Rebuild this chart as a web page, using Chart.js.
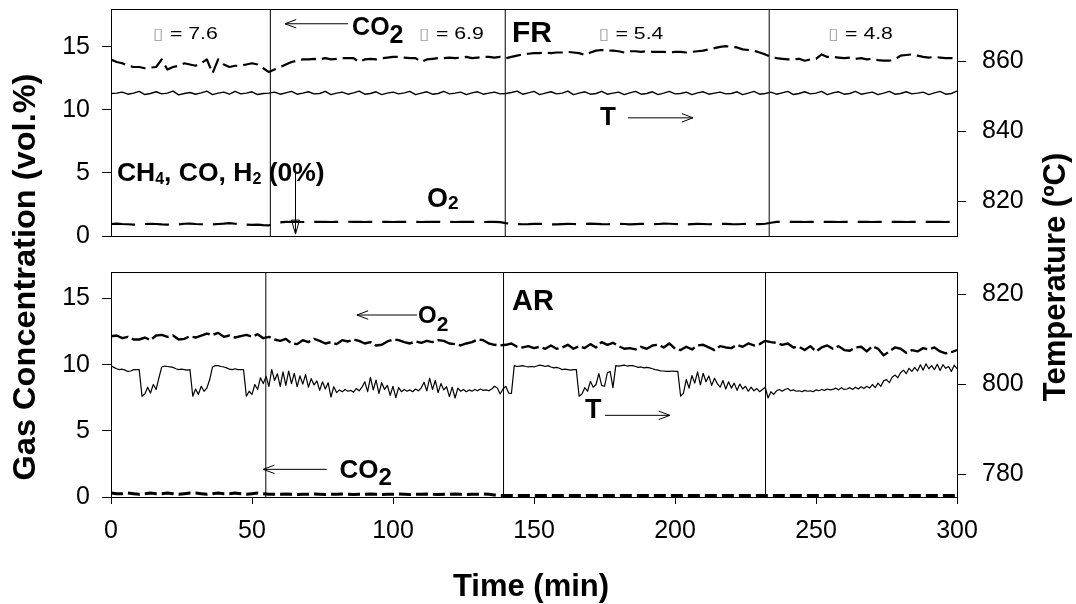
<!DOCTYPE html>
<html>
<head>
<meta charset="utf-8">
<script src="https://cdn.jsdelivr.net/npm/chart.js@4.4.0/dist/chart.umd.min.js"></script>
<style>
  body { margin: 0; background: #fff; }
  #wrap { position: relative; width: 1076px; height: 604px; }
  #wrap canvas { position: absolute; left: 0; top: 0; }
</style>
</head>
<body>
<div id="wrap">
  <canvas id="arChart" width="1076" height="604"></canvas>
  <canvas id="frChart" width="1076" height="256"></canvas>
</div>
<script>
const FONT = "'Liberation Sans', Arial, Helvetica, sans-serif";

// sampling interval (min) of each series
const FR_STEP = 2;
const AR_STEP = 2;
const AR_TEMP_STEP = 1;

// ---- FR panel (top) ----
const frCo2 = [
  14.0, 13.8, 13.7, 13.5, 13.4, 13.4, 13.3, 13.35, 13.4, 14.0,
  13.2, 13.4, 13.5, 13.7, 13.6, 13.5, 13.7, 14.0, 12.9, 14.0,
  13.6, 13.4, 13.5, 13.5, 13.6, 13.7, 13.6, 13.3, 13.0, 13.2,
  13.4, 13.6, 13.8, 13.9, 14.0, 14.0, 14.05, 14.0, 14.1, 14.0,
  14.05, 14.1, 14.1, 14.1, 13.8, 14.0, 14.05, 14.0, 14.1, 14.15,
  14.2, 14.2, 14.15, 14.1, 14.1, 13.8, 14.0, 14.05, 14.1, 14.1,
  14.15, 14.1, 14.15, 14.2, 14.1, 14.15, 14.2, 14.2, 14.15, 14.2,
  14.1, 14.2, 14.3, 14.4, 14.45, 14.5, 14.5, 14.55, 14.5, 14.55,
  14.55, 14.6, 14.55, 14.5, 14.35, 14.55, 14.7, 14.75, 14.7, 14.7,
  14.65, 14.55, 14.65, 14.65, 14.6, 14.65, 14.6, 14.6, 14.6, 14.55,
  14.6, 14.6, 14.55, 14.6, 14.65, 14.7, 14.8, 14.9, 15.0, 15.05,
  15.0, 14.95, 14.8, 14.75, 14.7, 14.55, 14.4, 14.2, 14.1, 14.05,
  14.0, 14.0, 14.05, 13.9, 14.0, 14.05, 14.4, 14.2, 14.2, 14.15,
  14.1, 14.15, 14.05, 14.1, 14.0, 14.05, 13.95, 13.9, 13.9, 14.0,
  14.3, 14.35, 14.4, 14.3, 14.2, 14.15, 14.2, 14.15, 14.1, 14.1,
  14.1
];
const frO2 = [
  0.95, 0.98, 0.95, 0.93, 0.90, 0.92, 0.95, 0.97, 0.95, 0.92,
  0.90, 0.88, 0.92, 0.97, 0.98, 0.95, 0.93, 0.90, 0.92, 0.95,
  0.98, 1.02, 0.97, 0.93, 0.90, 0.88, 0.90, 0.87, 0.85, 0.95,
  1.08, 1.12, 1.13, 1.12, 1.11, 1.12, 1.12, 1.13, 1.12, 1.11,
  1.12, 1.12, 1.13, 1.12, 1.12, 1.11, 1.12, 1.13, 1.12, 1.12,
  1.11, 1.12, 1.12, 1.13, 1.12, 1.11, 1.12, 1.12, 1.13, 1.12,
  1.12, 1.11, 1.12, 1.12, 1.13, 1.12, 1.11, 1.12, 1.12, 1.10,
  1.02, 0.96, 0.95, 0.93, 0.94, 0.96, 0.97, 0.95, 0.93, 0.92,
  0.94, 0.96, 0.95, 0.93, 0.95, 0.98, 0.96, 0.94, 0.93, 0.95,
  0.97, 0.95, 0.92, 0.94, 0.96, 0.95, 0.93, 0.95, 0.98, 0.97,
  0.95, 0.93, 0.92, 0.94, 0.96, 0.95, 0.93, 0.95, 0.97, 0.96,
  0.94, 0.93, 0.95, 0.96, 0.95, 0.94, 0.97, 1.05, 1.12, 1.12,
  1.13, 1.12, 1.12, 1.11, 1.12, 1.12, 1.13, 1.12, 1.12, 1.11,
  1.12, 1.12, 1.13, 1.12, 1.12, 1.11, 1.12, 1.12, 1.13, 1.12,
  1.12, 1.11, 1.12, 1.12, 1.13, 1.12, 1.12, 1.12, 1.11, 1.12,
  1.12
];
const frTemp = [
  850.8, 850.9, 851.2, 850.6, 850.9, 851.4, 850.5, 850.8, 851.3, 850.7,
  850.9, 851.5, 850.4, 850.8, 851.1, 850.6, 851.0, 851.5, 850.5, 850.9,
  851.2, 850.6, 851.4, 850.7, 850.9, 851.3, 850.5, 850.8, 850.9, 851.2,
  850.6, 851.0, 851.4, 850.6, 850.9, 851.3, 850.7, 850.8, 851.4, 850.5,
  850.9, 851.2, 850.6, 851.0, 851.5, 850.6, 850.8, 851.3, 850.5, 850.9,
  851.2, 850.7, 851.0, 851.4, 850.5, 850.9, 851.3, 850.6, 850.8, 851.4,
  850.7, 850.9, 851.2, 850.5, 851.0, 851.3, 850.6, 850.9, 851.2, 850.7,
  850.8, 851.1, 851.5, 850.6, 851.0, 851.4, 850.5, 850.9, 851.3, 850.7,
  850.9, 851.5, 850.5, 850.9, 851.3, 850.6, 850.8, 851.4, 850.6, 850.9,
  851.2, 850.5, 851.0, 851.4, 850.6, 850.8, 851.3, 850.5, 850.9, 851.4,
  850.7, 850.8, 851.2, 850.5, 851.0, 851.3, 850.6, 850.9, 851.2, 850.7,
  850.8, 851.3, 850.5, 850.9, 851.4, 850.6, 850.8, 851.2, 850.6, 851.0,
  851.4, 850.5, 850.8, 851.3, 850.7, 850.9, 851.4, 850.5, 851.0, 851.3,
  850.6, 850.8, 851.4, 850.6, 850.9, 851.2, 850.5, 850.9, 851.4, 850.6,
  850.8, 851.3, 850.7, 850.9, 851.2, 850.5, 851.0, 851.4, 850.6, 850.8,
  851.5
];
const frSwitch = [56.5, 139.8, 233.4];          // feed changes (min)
const frLambda = ['7.6', '6.9', '5.4', '4.8'];

// ---- AR panel (bottom) ----
const arO2 = [
  12.15, 12.2, 12.0, 12.1, 11.9, 11.9, 12.05, 11.85, 12.2, 12.25,
  12.1, 12.2, 11.9, 11.95, 12.15, 12.05, 12.2, 12.35, 12.25, 12.4,
  12.1, 12.2, 12.05, 12.15, 12.25, 12.1, 12.3, 12.0, 12.1, 11.9,
  11.8, 11.95, 11.6, 11.55, 11.85, 11.7, 11.95, 11.8, 11.6, 11.7,
  11.55, 11.85, 11.75, 11.9, 11.8, 11.6, 11.7, 11.45, 11.5, 11.75,
  11.9, 11.85, 11.7, 11.6, 11.75, 11.65, 11.8, 11.7, 11.85, 11.8,
  11.6, 11.55, 11.45, 11.6, 11.7, 11.9, 11.85, 11.6, 11.5, 11.45,
  11.5, 11.6, 11.35, 11.3, 11.4, 11.25, 11.35, 11.2, 11.45, 11.2,
  11.3, 11.5, 11.2, 11.4, 11.25, 11.55, 11.3, 11.7, 11.5, 11.65,
  11.4, 11.2, 11.25, 11.15, 11.35, 11.2, 11.45, 11.5, 11.3, 11.6,
  11.2, 11.1, 11.35, 11.15, 11.45, 11.5, 11.3, 11.1, 11.4, 11.3,
  11.25, 11.5, 11.35, 11.6, 11.45, 11.55, 11.8, 11.7, 11.65, 11.5,
  11.6, 11.3, 11.35, 11.1, 11.4, 11.0, 11.3, 11.45, 11.2, 11.4,
  11.1, 11.05, 11.3, 11.35, 11.0, 11.4, 11.2, 10.7, 11.0, 11.3,
  11.2, 10.9, 11.1, 11.0, 11.25, 11.15, 11.3, 11.0, 10.85, 10.95,
  11.1
];
const arCo2 = [
  0.3, 0.25, 0.25, 0.3, 0.25, 0.2, 0.25, 0.3, 0.25, 0.25,
  0.3, 0.25, 0.2, 0.25, 0.3, 0.3, 0.25, 0.2, 0.25, 0.3,
  0.25, 0.25, 0.3, 0.25, 0.2, 0.25, 0.3, 0.25, 0.2, 0.2,
  0.2, 0.22, 0.2, 0.18, 0.2, 0.2, 0.22, 0.2, 0.18, 0.2,
  0.2, 0.22, 0.2, 0.18, 0.2, 0.2, 0.22, 0.2, 0.18, 0.2,
  0.2, 0.22, 0.2, 0.18, 0.2, 0.2, 0.22, 0.2, 0.18, 0.2,
  0.2, 0.22, 0.2, 0.18, 0.2, 0.2, 0.22, 0.2, 0.15, 0.12,
  0.12, 0.12, 0.12, 0.12, 0.12, 0.12, 0.12, 0.12, 0.12, 0.12,
  0.12, 0.12, 0.12, 0.12, 0.12, 0.12, 0.12, 0.12, 0.12, 0.12,
  0.12, 0.12, 0.12, 0.12, 0.12, 0.12, 0.12, 0.12, 0.12, 0.12,
  0.12, 0.12, 0.12, 0.12, 0.12, 0.12, 0.12, 0.12, 0.12, 0.12,
  0.12, 0.12, 0.12, 0.12, 0.12, 0.12, 0.12, 0.12, 0.12, 0.12,
  0.12, 0.12, 0.12, 0.12, 0.12, 0.12, 0.12, 0.12, 0.12, 0.12,
  0.12, 0.12, 0.12, 0.12, 0.12, 0.12, 0.12, 0.12, 0.12, 0.12,
  0.12, 0.12, 0.12, 0.12, 0.12, 0.12, 0.12, 0.12, 0.12, 0.12,
  0.12
];
const arTemp = [
  804.2, 803.8, 803.5, 803.3, 803.4, 803.2, 802.9, 803.0, 803.3, 803.3,
  803.3, 797.4, 797.9, 799.4, 798.1, 800.0, 798.9, 801.5, 803.9, 804.1,
  804.0, 803.9, 803.8, 803.5, 803.3, 803.4, 803.3, 803.2, 803.3, 797.4,
  799.0, 797.8, 799.6, 798.5, 799.2, 801.1, 803.9, 804.2, 804.2, 804.0,
  803.9, 803.7, 803.4, 803.3, 803.5, 803.3, 803.3, 803.3, 797.4, 798.5,
  797.8, 800.0, 798.9, 801.5, 800.2, 801.8, 799.6, 803.3, 800.9, 802.4,
  799.6, 802.8, 799.8, 803.0, 800.2, 802.5, 799.5, 801.9, 800.1, 802.2,
  799.4, 801.3, 799.9, 800.8, 798.7, 800.6, 799.0, 800.4, 797.2, 799.5,
  798.2, 798.8, 798.4, 798.9, 798.5, 798.7, 798.3, 799.1, 798.6, 799.4,
  800.6, 798.4, 801.6, 798.8, 801.0, 798.0, 800.4, 798.9, 799.8, 797.6,
  799.6, 797.1, 799.3, 798.4, 798.9, 798.5, 798.8, 798.4, 799.0, 798.6,
  799.2, 800.5, 798.6, 801.4, 798.9, 800.9, 798.2, 800.2, 798.8, 799.5,
  797.3, 799.4, 797.0, 799.2, 798.5, 798.9, 798.4, 798.8, 798.5, 798.9,
  798.6, 799.0, 798.7, 798.8, 798.6, 799.0, 799.6, 799.2, 797.9, 799.0,
  799.6, 798.1, 798.0, 804.2, 804.0, 804.1, 804.2, 804.0, 803.9, 804.0,
  803.9, 804.1, 804.3, 804.2, 804.0, 804.2, 803.9, 803.7, 803.8, 803.6,
  803.3, 803.4, 803.3, 803.2, 803.3, 803.3, 797.4, 797.9, 799.3, 798.5,
  800.7, 799.4, 800.0, 802.4, 799.8, 799.6, 802.6, 802.9, 799.3, 804.2,
  804.1, 804.2, 804.3, 804.1, 804.2, 804.2, 804.0, 803.8, 803.9, 803.7,
  803.8, 803.7, 803.5, 803.3, 803.2, 803.0, 803.0, 802.9, 802.9, 803.0,
  802.9, 802.9, 797.4, 798.1, 801.1, 799.2, 802.0, 800.3, 802.8, 799.9,
  802.5, 800.6, 801.9, 799.8, 801.4, 800.2, 799.4, 800.9, 799.0, 800.6,
  799.2, 800.3, 798.7, 800.1, 799.0, 799.6, 798.5, 799.4, 798.6, 799.1,
  798.4, 798.9, 799.4, 797.0, 798.4, 797.8, 798.6, 798.9, 798.5, 798.9,
  799.1, 798.6, 798.8, 798.5, 798.6, 798.4, 798.7, 798.5, 798.6, 798.4,
  798.8, 798.6, 798.9, 798.7, 799.0, 798.8, 798.9, 799.2, 798.8, 799.3,
  798.9, 799.0, 799.3, 798.9, 799.4, 799.0, 799.5, 799.1, 799.6, 799.2,
  800.0, 799.3, 800.3, 799.6, 800.8, 801.1, 800.4, 801.6, 802.1, 801.5,
  802.6, 803.2, 802.4, 803.6, 802.9, 803.8, 803.0, 804.4, 803.2, 804.6,
  803.5, 804.2, 803.3, 804.5, 803.1, 804.4, 803.6, 804.0, 802.9, 804.3,
  803.5
];
const arSwitch = [54.9, 139.2, 232.1];

// ---- axes ----
const timeTicks = [0, 50, 100, 150, 200, 250, 300];
const concTicks = [0, 5, 10, 15];
const frTempTicks = [820, 840, 860];
const arTempTicks = [780, 800, 820];
const FR_CONC = [0, 18], FR_TEMP = [810, 875];
const AR_CONC = [0, 17], AR_TEMP = [775, 825];

const series = (vals, step) => vals.map((v, i) => ({ x: i * step, y: v }));
const vline = (t, range) => [{ x: t, y: range[0] }, { x: t, y: range[1] }];

function yAxis(pos, range, ticks, width) {
    return {
        type: 'linear', position: pos, min: range[0], max: range[1],
        afterBuildTicks: s => { s.ticks = ticks.map(v => ({ value: v })); },
        afterFit: s => { s.width = width; s.paddingTop = 0; s.paddingBottom = 0; },
        grid: { drawOnChartArea: false, drawTicks: true, tickLength: 9, color: '#000', tickColor: '#000' },
        border: { display: false },
        ticks: { color: '#000', padding: pos === 'left' ? 12 : 16, font: { family: FONT, size: 25 } }
    };
}

function line(data, axis, width, dash) {
    return { data, yAxisID: axis, borderColor: '#000', borderWidth: width, borderDash: dash || [],
             pointRadius: 0, tension: 0, fill: false, borderJoinStyle: 'round' };
}

// ---- drawing helpers ----
function chem(ctx, x, y, parts) {
    parts.forEach(([s, size, dy]) => {
        ctx.font = 'bold ' + size + 'px ' + FONT;
        ctx.fillText(s, x, y + dy);
        x += ctx.measureText(s).width;
    });
}

function arrow(ctx, x1, y1, x2, y2) {   // head at (x2, y2)
    ctx.beginPath(); ctx.moveTo(x1, y1); ctx.lineTo(x2, y2); ctx.stroke();
    const a = Math.atan2(y2 - y1, x2 - x1), L = 12, w = 0.36;
    ctx.beginPath();
    ctx.moveTo(x2 - L * Math.cos(a - w), y2 - L * Math.sin(a - w));
    ctx.lineTo(x2, y2);
    ctx.lineTo(x2 - L * Math.cos(a + w), y2 - L * Math.sin(a + w));
    ctx.stroke();
}

// "▯ = 7.6" style label, text a little wider than the font
function lambda(ctx, cx, y, val) {
    const sx = 1.25;
    const box = '\u25AF', rest = ' = ' + val;
    ctx.save();
    ctx.translate(cx, y);
    ctx.scale(sx, 1);
    ctx.font = '16px DejaVu Sans';
    const wb = ctx.measureText(box).width;
    ctx.font = '17px ' + FONT;
    const wr = ctx.measureText(rest).width;
    const x = -(wb + wr) / 2;
    ctx.fillStyle = '#aaa';
    ctx.font = '16px DejaVu Sans';
    ctx.fillText(box, x, 0);
    ctx.fillStyle = '#000';
    ctx.font = '17px ' + FONT;
    ctx.fillText(rest, x + wb, 0);
    ctx.restore();
}

const frame = {
    id: 'frame',
    afterDatasetsDraw(chart) {
        const a = chart.chartArea, ctx = chart.ctx;
        ctx.save();
        ctx.strokeStyle = '#000';
        ctx.lineWidth = 1;
        ctx.strokeRect(Math.round(a.left) + 0.5, Math.round(a.top) + 0.5,
                       Math.round(a.right - a.left), Math.round(a.bottom - a.top));
        ctx.restore();
    }
};

const frNotes = {
    id: 'frNotes',
    afterDraw(chart) {
        const { ctx, scales: { x, yL } } = chart;
        const X = t => x.getPixelForValue(t), Y = v => yL.getPixelForValue(v);
        ctx.save();
        ctx.fillStyle = '#000'; ctx.strokeStyle = '#000'; ctx.lineWidth = 1;
        ctx.textBaseline = 'alphabetic'; ctx.textAlign = 'left';

        [26.4, 120.7, 184.4, 265.8].forEach((t, i) => lambda(ctx, X(t), Y(15.6), frLambda[i]));

        chem(ctx, X(142.2), Y(15.36), [['FR', 30, 0]]);
        arrow(ctx, X(84.0), Y(16.83), X(61.7), Y(16.83));
        chem(ctx, X(85.5), Y(15.9), [['CO', 25, 0], ['2', 25, 8]]);

        chem(ctx, X(2.1), Y(4.33), [['CH', 26.5, 0], ['4', 16, 3], [', CO, H', 26.5, 0], ['2', 16, 3], [' (0%)', 26.5, 0]]);
        // down arrow with open triangle head
        const ax = Math.round(X(65.25)) + 0.5, y1 = Y(5.0), y2 = Y(0.15);
        ctx.beginPath(); ctx.moveTo(ax, y1); ctx.lineTo(ax, y2); ctx.stroke();
        ctx.beginPath(); ctx.moveTo(ax - 4, y2 - 14); ctx.lineTo(ax + 4, y2 - 14); ctx.lineTo(ax, y2); ctx.closePath(); ctx.stroke();

        chem(ctx, X(112.1), Y(2.33), [['O', 27, 0], ['2', 19, 2]]);

        chem(ctx, X(173.4), Y(8.81), [['T', 26, 0]]);
        arrow(ctx, X(183.3), Y(9.37), X(206.4), Y(9.37));
        ctx.restore();
    }
};

const arNotes = {
    id: 'arNotes',
    afterDraw(chart) {
        const { ctx, scales: { x, yL } } = chart;
        const X = t => x.getPixelForValue(t), Y = v => yL.getPixelForValue(v);
        ctx.save();
        ctx.fillStyle = '#000'; ctx.strokeStyle = '#000'; ctx.lineWidth = 1;
        ctx.textBaseline = 'alphabetic'; ctx.textAlign = 'left';

        chem(ctx, X(142.2), Y(14.12), [['AR', 29, 0]]);
        arrow(ctx, X(108.5), Y(13.75), X(87.2), Y(13.75));
        chem(ctx, X(108.9), Y(13.12), [['O', 24, 0], ['2', 21, 8]]);

        chem(ctx, X(168.1), Y(5.94), [['T', 27, 0]]);
        arrow(ctx, X(175.2), Y(6.17), X(198.2), Y(6.17));

        arrow(ctx, X(76.5), Y(2.09), X(54.0), Y(2.09));
        chem(ctx, X(81.0), Y(1.41), [['CO', 26, 0], ['2', 24, 7]]);

        // axis titles
        ctx.font = 'bold 31px ' + FONT;
        ctx.textAlign = 'center';
        ctx.fillText('Time (min)', 531, 596);
        ctx.save(); ctx.translate(35, 277); ctx.rotate(-Math.PI / 2); ctx.scale(1.05, 1);
        ctx.fillText('Gas Concentration (vol.%)', 0, 0); ctx.restore();
        ctx.save(); ctx.translate(1065, 277); ctx.rotate(-Math.PI / 2);
        ctx.fillText('Temperature (ºC)', 0, 0); ctx.restore();
        ctx.restore();
    }
};

const baseOptions = (padding, scales) => ({
    responsive: false, animation: false, events: [],
    layout: { padding },
    plugins: { legend: { display: false }, tooltip: { enabled: false } },
    scales
});

new Chart(document.getElementById('frChart'), {
    type: 'line',
    data: {
        datasets: [
            line(series(frCo2, FR_STEP), 'yL', 2.2, [15, 6]),
            line(series(frO2, FR_STEP), 'yL', 2.2, [24, 10]),
            line(series(frTemp, FR_STEP), 'yR', 1.4),
            ...frSwitch.map(t => line(vline(t, FR_CONC), 'yL', 1))
        ]
    },
    options: baseOptions({ top: 9, bottom: 20, left: 0, right: 0 }, {
        x: { type: 'linear', min: 0, max: 300, display: false },
        yL: yAxis('left', FR_CONC, concTicks, 111),
        yR: yAxis('right', FR_TEMP, frTempTicks, 119)
    }),
    plugins: [frame, frNotes]
});

new Chart(document.getElementById('arChart'), {
    type: 'line',
    data: {
        datasets: [
            line(series(arO2, AR_STEP), 'yL', 2.4, [18, 4]),
            line(series(arCo2, AR_STEP), 'yL', 3, [12, 5]),
            line(series(arTemp, AR_TEMP_STEP), 'yR', 1.2),
            ...arSwitch.map(t => line(vline(t, AR_CONC), 'yL', 1))
        ]
    },
    options: baseOptions({ top: 272, bottom: 0, left: 0, right: 0 }, {
        x: {
            type: 'linear', min: 0, max: 300,
            afterBuildTicks: s => { s.ticks = timeTicks.map(v => ({ value: v })); },
            afterFit: s => { s.height = 107; s.paddingLeft = 0; s.paddingRight = 0; },
            grid: { drawOnChartArea: false, drawTicks: true, tickLength: 7, color: '#000', tickColor: '#000' },
            border: { display: false },
            ticks: { color: '#000', padding: 12, maxRotation: 0, autoSkip: false, font: { family: FONT, size: 25 } }
        },
        yL: yAxis('left', AR_CONC, concTicks, 111),
        yR: yAxis('right', AR_TEMP, arTempTicks, 119)
    }),
    plugins: [frame, arNotes]
});
</script>
</body>
</html>
